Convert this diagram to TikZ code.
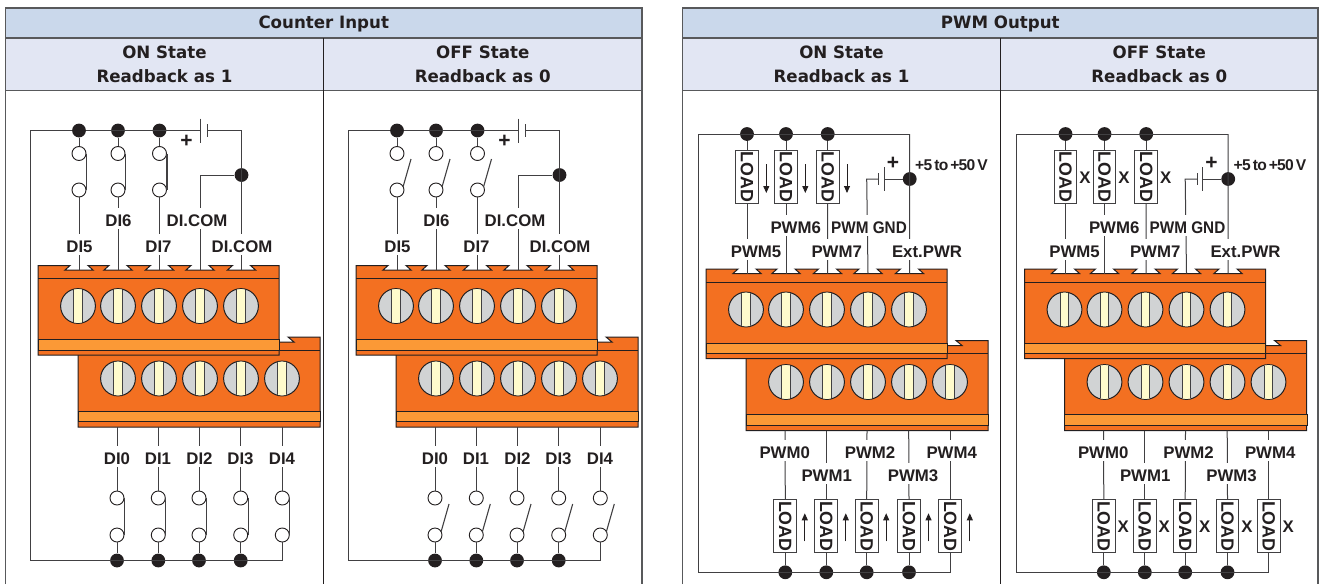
\documentclass[tikz,border=0pt]{standalone}
\usepackage{fontspec}
\setmainfont{Liberation Sans}
\newfontfamily\headfont[FakeStretch=0.98]{DejaVu Sans}
\newfontfamily\tightfont[LetterSpace=-4.5,WordSpace=0.55]{Liberation Sans}
\usetikzlibrary{calc,arrows.meta}
\definecolor{ink}{HTML}{231F20}
\definecolor{wirec}{HTML}{414042}
\definecolor{rule}{HTML}{58595B}
\definecolor{headA}{HTML}{CAD8EB}
\definecolor{headB}{HTML}{E2E6F3}
\definecolor{blockor}{HTML}{F37021}
\definecolor{bandor}{HTML}{FB9936}
\definecolor{screwg}{HTML}{D1D3D4}
\definecolor{slotc}{HTML}{FFFBCC}
\tikzset{
  wire/.style={draw=wirec,line width=1pt},
  wiredot/.style={circle,fill=ink,draw=none,minimum size=13.8pt,inner sep=0pt},
  swcircle/.style={circle,draw=ink,fill=white,line width=.9pt,minimum size=14pt,inner sep=0pt},
  termlabel/.style={fill=white,text=ink,inner xsep=0pt,inner ysep=0pt,minimum height=21pt,text height=16pt,text depth=0pt,font=\fontsize{16.8}{17}\selectfont\bfseries},
  plainlabel/.style={text=ink,inner sep=0pt,font=\fontsize{16.8}{17}\selectfont\bfseries},
  plussign/.style={text=ink,inner sep=0pt,font=\fontsize{21}{21}\selectfont\bfseries},
  rangelabel/.style={text=ink,inner sep=0pt,font=\fontsize{15.6}{16}\tightfont\bfseries},
  loadbox/.style={rotate=-90,draw=wirec,fill=white,text=ink,line width=1pt,minimum width=52.7pt,minimum height=22.7pt,inner sep=0pt,font=\fontsize{17.8}{17}\selectfont\bfseries},
  flowarrow/.style={draw=ink,line width=.9pt,-{Triangle[length=7pt,width=6pt]}},
  headone/.style={text=ink,inner sep=0pt,font=\fontsize{17}{18}\headfont\bfseries},
  headtwo/.style={text=ink,inner sep=0pt,align=center,font=\fontsize{17}{24}\headfont\bfseries},
  blockline/.style={draw=ink,line width=1pt}
}
% table frame: x0, xmid, x1, title, name
\newcommand{\TableFrame}[5]{%
  \fill[headA] (#1,8) rectangle (#3,38);
  \fill[headB] (#1,38) rectangle (#3,90.5);
  \draw[rule,line width=1.3pt] (#1,38) -- (#3,38) (#1,90.5) -- (#3,90.5);
  \draw[ink,line width=.9pt] (#2,38) -- (#2,584);
  \draw[rule,line width=1.5pt] (#1,584) -- (#1,8) -- (#3,8) -- (#3,584);
  \node[headone] (#5title) at ({(#1+#3)/2},23.5) {#4};
  \node[headtwo] (#5on) at ({(#1+#2)/2},64.5) {ON State\\Readback as 1};
  \node[headtwo] (#5off) at ({(#2+#3)/2},64.5) {OFF State\\Readback as 0};
}
% the pair of terminal blocks, in counter-panel coordinates
\newcommand{\Blocks}{%
  % lower block
  \draw[blockline,fill=blockor] (78,342) -- (294,342) -- (288,337) -- (320,337) -- (320,427) -- (78,427) -- cycle;
  \draw[blockline] (279,350) -- (320,350);
  \draw[blockline,fill=bandor] (78,411) rectangle (320.5,421.5);
  \foreach \i/\x in {1/118,2/159,3/200,4/241,5/282}{
    \begin{scope}[shift={(\x,378.5)}]
      \draw[ink,line width=1pt,fill=screwg] (0,0) circle[radius=17.4pt];
      \begin{scope}
        \clip (0,0) circle[radius=16.9pt];
        \draw[wirec,line width=1pt,fill=slotc] (-4.4,-20) rectangle (4.4,20);
      \end{scope}
    \end{scope}
  }
  % upper block
  \draw[blockline,fill=blockor] (38,265.5)
    -- (70,265.5) -- (65,270) -- (93,270) -- (88,265.5)
    -- (109,265.5) -- (104,270) -- (132,270) -- (127,265.5)
    -- (150.5,265.5) -- (145.5,270) -- (173.5,270) -- (168.5,265.5)
    -- (191,265.5) -- (186,270) -- (214,270) -- (209,265.5)
    -- (232.5,265.5) -- (227.5,270) -- (255.5,270) -- (250.5,265.5)
    -- (279,265.5) -- (279,355) -- (38,355) -- cycle;
  \draw[blockline] (38,278.5) -- (279,278.5);
  \draw[blockline,fill=bandor] (38,339.5) rectangle (279,350);
  \foreach \i/\x in {1/78,2/118,3/159,4/200,5/241}{
    \begin{scope}[shift={(\x,306)}]
      \draw[ink,line width=1pt,fill=screwg] (0,0) circle[radius=17.4pt];
      \begin{scope}
        \clip (0,0) circle[radius=16.9pt];
        \draw[wirec,line width=1pt,fill=slotc] (-4.4,-20) rectangle (4.4,20);
      \end{scope}
    \end{scope}
  }
  \foreach \i/\x in {1/79,2/118,3/159.5,4/200,5/241.5}{\coordinate (ut\i) at (\x,270);}
  \foreach \i/\x in {1/117,2/158.3,3/199,4/240.7,5/282.3}{\coordinate (lt\i) at (\x,427);}
}
% switch pair: name, x, ytop, ybot, state (0 closed, 1 open)
\newcommand{\SwitchPair}[5]{%
  \node[swcircle] (#1a) at (#2,#3) {};
  \node[swcircle] (#1b) at (#2,#4) {};
  \ifnum#5=0
    \draw[wire,line width=1.1pt] (#1a.east) -- (#1b.east);
  \else
    \coordinate (#1c) at ($(#1b)+(14,-31)$);
    \draw[wire,line width=1.1pt] ($(#1b)+(6,-3)$) -- (#1c);
  \fi
}
% counter panel circuit: state
\newcommand{\CounterPanel}[1]{%
  \Blocks
  \foreach \i/\x in {1/79,2/118,3/159.5}{
    \node[wiredot] (top\i) at (\x,130.5) {};
    \SwitchPair{us\i}{\x}{153.5}{190}{#1}
    \draw[wire] (top\i) -- (us\i a);
    \draw[wire] (us\i b) -- (ut\i);
  }
  \foreach \i/\x in {1/117,2/158.3,3/199,4/240.7,5/282.3}{
    \SwitchPair{ls\i}{\x}{498}{535}{#1}
    \draw[wire] (lt\i) -- (ls\i a);
  }
  \foreach \i/\x in {1/117,2/158.3,3/199,4/240.7}{
    \node[wiredot] (bot\i) at (\x,560.5) {};
    \draw[wire] (ls\i b) -- (bot\i);
  }
  \coordinate (corner1) at (30,130.5);
  \coordinate (corner2) at (30,560.5);
  \coordinate (corner3) at (282.3,560.5);
  \draw[wire] (top1) -- (corner1) -- (corner2) -- (corner3) -- (ls5b);
  \coordinate (plateA) at (200,130.5);
  \coordinate (plateB) at (207.7,130.5);
  \coordinate (corner4) at (241.5,130.5);
  \coordinate (corner5) at (200,175);
  \node[wiredot] (junc) at (241.5,175) {};
  \draw[wire] (top1) -- (plateA);
  \draw[wire] (plateA)+(0,-12) -- +(0,12);
  \draw[wire] (plateB)+(0,-6.5) -- +(0,6.5);
  \draw[wire] (plateB) -- (corner4) -- (ut5);
  \draw[wire] (junc) -- (corner5) -- (ut4);
  \node[plussign] (plus) at (186.5,141) {+};
  \node[termlabel] (l5) at (79.5,244) {DI5};
  \node[termlabel] (l6) at (118.5,218.5) {DI6};
  \node[termlabel] (l7) at (158.5,244) {DI7};
  \node[termlabel] (lcoma) at (197,218.5) {DI.COM};
  \node[termlabel] (lcomb) at (242,244) {DI.COM};
  \foreach \i/\x in {0/117,1/158,2/199.5,3/240.5,4/282}{
    \node[termlabel] (l\i) at (\x,456) {DI\i};
  }
}
% pwm panel circuit: state (0 arrows, 1 X marks)
\newcommand{\PwmPanel}[1]{%
  \begin{scope}[shift={(668,3.5)}]\Blocks\end{scope}
  \foreach \i/\x in {1/747,2/786,3/827.7}{
    \node[wiredot] (top\i) at (\x,134) {};
    \node[loadbox] (ul\i) at (\x,177) {LOAD};
    \draw[wire] (top\i) -- (ul\i.west);
    \draw[wire] (ul\i.east) -- (ut\i);
    \ifnum#1=0
      \draw[flowarrow] ($(ul\i)+(19.3,-13)$) -- ($(ul\i)+(19.3,16)$);
    \else
      \node[plainlabel] (ux\i) at ($(ul\i)+(19.5,0.5)$) {X};
    \fi
  }
  \foreach \i/\x in {1/785.3,2/826.3,3/866.7,4/909,5/950.3}{
    \node[loadbox] (ll\i) at (\x,526.3) {LOAD};
    \draw[wire] (lt\i) -- (ll\i.west);
    \ifnum#1=0
      \draw[flowarrow] ($(ll\i)+(19.5,15)$) -- ($(ll\i)+(19.5,-13)$);
    \else
      \node[plainlabel] (lx\i) at ($(ll\i)+(19.5,0.5)$) {X};
    \fi
  }
  \foreach \i/\x in {1/785.3,2/826.3,3/866.7,4/909}{
    \node[wiredot] (bot\i) at (\x,572.3) {};
    \draw[wire] (ll\i.east) -- (bot\i);
  }
  \coordinate (corner1) at (698,134);
  \coordinate (corner2) at (698,572.3);
  \coordinate (corner3) at (950.3,572.3);
  \coordinate (corner4) at (909.7,134);
  \coordinate (plateA) at (884,179);
  \coordinate (plateB) at (878.7,179);
  \coordinate (corner5) at (866.7,179);
  \draw[wire] (corner4) -- (corner1) -- (corner2) -- (corner3) -- (ll5.east);
  \node[wiredot] (junc) at (909.7,179) {};
  \draw[wire] (corner4) -- (ut5);
  \draw[wire] (junc) -- (plateA);
  \draw[wire] (plateA)+(0,-12) -- +(0,12);
  \draw[wire] (plateB)+(0,-6) -- +(0,6);
  \draw[wire] (plateB) -- (corner5) -- (ut4);
  \node[plussign] (plus) at (893,163.5) {+};
  \node[rangelabel,anchor=west] (range) at (915,165) {+5 to +50 V};
  \node[termlabel] (l5) at (756,249) {PWM5};
  \node[termlabel] (l6) at (795.7,225.7) {PWM6};
  \node[termlabel] (l7) at (836.7,249) {PWM7};
  \node[termlabel] (lgnd) at (869,225.7) {\scalebox{.91}[1]{PWM GND}};
  \node[termlabel] (lpwr) at (927,249) {Ext.PWR};
  \node[termlabel] (l0) at (784.7,450.7) {PWM0};
  \node[termlabel] (l1) at (826.7,473) {PWM1};
  \node[termlabel] (l2) at (870,450.7) {PWM2};
  \node[termlabel] (l3) at (913,473) {PWM3};
  \node[termlabel] (l4) at (951.7,450.7) {PWM4};
}
\begin{document}
\begin{tikzpicture}[x=1pt,y=-1pt]
  \useasboundingbox (0,0) rectangle (1319,584);
  \fill[white] (0,0) rectangle (1319,584);
  \TableFrame{5.5}{323.5}{642}{Counter Input}{ci}
  \TableFrame{682.5}{1000.5}{1318}{PWM Output}{po}
  \begin{scope}[name prefix=a-]\CounterPanel{0}\end{scope}
  \begin{scope}[shift={(318,0)},name prefix=b-]\CounterPanel{1}\end{scope}
  \begin{scope}[name prefix=c-]\PwmPanel{0}\end{scope}
  \begin{scope}[shift={(318.5,0)},name prefix=d-]\PwmPanel{1}\end{scope}
\end{tikzpicture}
\end{document}
